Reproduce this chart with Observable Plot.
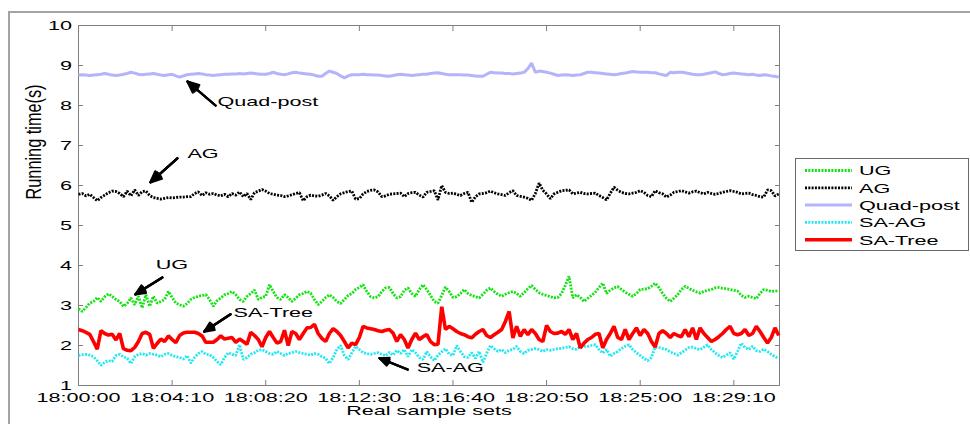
<!DOCTYPE html>
<html>
<head>
<meta charset="utf-8">
<script src="https://cdn.jsdelivr.net/npm/d3@7"></script>
<script src="https://cdn.jsdelivr.net/npm/@observablehq/plot@0.6"></script>
<style>
  html, body { margin: 0; padding: 0; background: #fff; overflow: hidden; }
  #figure { position: relative; width: 970px; height: 424px; overflow: hidden; background: #fff;
            font-family: "Liberation Sans", Arial, sans-serif; }
  #outline { position: absolute; left: 8px; top: 11px; width: 1000px; height: 500px;
             border-left: 2px solid #a3a3a3; border-top: 2px solid #a3a3a3; }
  #chart { position: absolute; left: 0; top: 0; }
  #legend { position: absolute; left: 795px; top: 158px; }
</style>
</head>
<body>
<div id="figure">
  <div id="outline"></div>
  <div id="chart"></div>
  <div id="legend"></div>
</div>
<script>
// Sampling: one measurement every 10 s starting at 18:00:00
const sampleStart = "18:00:00";
const sampleStepSeconds = 10;
const axisEnd = "18:31:12";

const xTickLabels = ["18:00:00", "18:04:10", "18:08:20", "18:12:30", "18:16:40", "18:20:50", "18:25:00", "18:29:10"];
const yTicks = [1, 2, 3, 4, 5, 6, 7, 8, 9, 10];
const yTickLabels = ["1", "2", "3", "4", "5", "6", "7", "8", "9", "10"];

const seriesNames = ["UG", "AG", "Quad-post", "SA-AG", "SA-Tree"];

// Running time (s) per sample set
const ug = [
  2.92, 2.85, 2.95, 3.06, 3.10, 3.20, 3.10, 3.22, 3.29, 3.23,
  3.15, 3.10, 2.98, 3.05, 3.19, 3.02, 3.23, 2.94, 3.27, 2.98,
  3.23, 3.06, 3.10, 3.15, 3.35, 3.20, 3.06, 3.02, 2.98, 3.05,
  3.15, 3.20, 3.23, 3.25, 3.27, 3.15, 2.98, 3.12, 3.19, 3.27,
  3.30, 3.35, 3.27, 3.15, 3.10, 3.23, 3.30, 3.39, 3.15, 3.20,
  3.23, 3.52, 3.35, 3.20, 3.15, 3.27, 3.20, 3.10, 3.18, 3.27,
  3.30, 3.35, 3.31, 3.15, 3.02, 3.10, 3.20, 3.27, 3.20, 3.10,
  3.05, 3.15, 3.25, 3.30, 3.40, 3.45, 3.52, 3.35, 3.22, 3.19,
  3.22, 3.35, 3.44, 3.45, 3.30, 3.19, 3.22, 3.38, 3.44, 3.30,
  3.23, 3.40, 3.52, 3.40, 3.25, 3.10, 3.06, 3.25, 3.46, 3.35,
  3.20, 3.22, 3.30, 3.40, 3.30, 3.25, 3.22, 3.19, 3.28, 3.38,
  3.44, 3.35, 3.28, 3.23, 3.28, 3.32, 3.35, 3.30, 3.23, 3.32,
  3.42, 3.50, 3.40, 3.32, 3.28, 3.25, 3.22, 3.19, 3.20, 3.30,
  3.50, 3.73, 3.19, 3.27, 3.20, 3.10, 3.18, 3.25, 3.33, 3.45,
  3.56, 3.30, 3.38, 3.44, 3.47, 3.40, 3.33, 3.28, 3.23, 3.30,
  3.40, 3.41, 3.42, 3.48, 3.56, 3.45, 3.30, 3.18, 3.10, 3.18,
  3.27, 3.40, 3.48, 3.43, 3.38, 3.34, 3.31, 3.35, 3.38, 3.40,
  3.44, 3.45, 3.43, 3.42, 3.40, 3.38, 3.36, 3.25, 3.20, 3.23,
  3.20, 3.17, 3.30, 3.40, 3.38, 3.35, 3.36, 3.37
];
const ag = [
  5.78, 5.80, 5.74, 5.78, 5.70, 5.62, 5.70, 5.76, 5.82, 5.86,
  5.85, 5.80, 5.72, 5.86, 5.74, 5.89, 5.75, 5.85, 5.86, 5.75,
  5.70, 5.68, 5.66, 5.68, 5.70, 5.69, 5.70, 5.71, 5.71, 5.72,
  5.72, 5.80, 5.84, 5.75, 5.82, 5.78, 5.80, 5.76, 5.74, 5.78,
  5.72, 5.80, 5.76, 5.84, 5.72, 5.80, 5.65, 5.82, 5.86, 5.90,
  5.86, 5.80, 5.78, 5.76, 5.75, 5.72, 5.74, 5.77, 5.80, 5.82,
  5.62, 5.72, 5.76, 5.74, 5.73, 5.76, 5.80, 5.74, 5.63, 5.72,
  5.79, 5.82, 5.85, 5.86, 5.66, 5.67, 5.79, 5.85, 5.88, 5.89,
  5.84, 5.72, 5.74, 5.78, 5.79, 5.80, 5.81, 5.72, 5.80, 5.82,
  5.83, 5.76, 5.71, 5.83, 5.85, 5.87, 5.64, 6.00, 5.83, 5.80,
  5.81, 5.78, 5.75, 5.80, 5.83, 5.58, 5.72, 5.79, 5.80, 5.82,
  5.86, 5.82, 5.79, 5.77, 5.75, 5.82, 5.87, 5.75, 5.73, 5.71,
  5.68, 5.63, 5.80, 6.06, 5.88, 5.79, 5.67, 5.79, 5.83, 5.87,
  5.88, 5.89, 5.79, 5.81, 5.83, 5.80, 5.79, 5.80, 5.81, 5.75,
  5.70, 5.64, 5.80, 5.96, 5.88, 5.83, 5.80, 5.79, 5.81, 5.83,
  5.87, 5.83, 5.75, 5.72, 5.87, 5.82, 5.79, 5.71, 5.76, 5.83,
  5.85, 5.87, 5.84, 5.81, 5.84, 5.86, 5.82, 5.79, 5.83, 5.80,
  5.78, 5.80, 5.83, 5.85, 5.87, 5.85, 5.83, 5.79, 5.80, 5.81,
  5.77, 5.75, 5.72, 5.71, 5.89, 5.87, 5.74, 5.79
];
const quadPost = [
  8.76, 8.77, 8.76, 8.75, 8.76, 8.77, 8.78, 8.80, 8.78, 8.76,
  8.75, 8.76, 8.78, 8.80, 8.83, 8.81, 8.78, 8.77, 8.78, 8.79,
  8.80, 8.78, 8.76, 8.75, 8.77, 8.78, 8.74, 8.71, 8.74, 8.77,
  8.78, 8.79, 8.80, 8.79, 8.77, 8.76, 8.75, 8.76, 8.77, 8.78,
  8.78, 8.79, 8.79, 8.80, 8.79, 8.80, 8.81, 8.80, 8.79, 8.78,
  8.78, 8.80, 8.83, 8.80, 8.78, 8.77, 8.79, 8.82, 8.83, 8.81,
  8.80, 8.79, 8.78, 8.76, 8.73, 8.73, 8.80, 8.86, 8.83, 8.80,
  8.74, 8.69, 8.74, 8.77, 8.77, 8.77, 8.78, 8.77, 8.77, 8.76,
  8.76, 8.75, 8.74, 8.73, 8.75, 8.77, 8.78, 8.77, 8.76, 8.75,
  8.76, 8.77, 8.78, 8.78, 8.80, 8.81, 8.82, 8.80, 8.78, 8.77,
  8.77, 8.77, 8.77, 8.76, 8.76, 8.75, 8.74, 8.73, 8.73, 8.78,
  8.83, 8.82, 8.81, 8.81, 8.80, 8.80, 8.79, 8.80, 8.81, 8.83,
  8.92, 9.06, 8.83, 8.86, 8.85, 8.83, 8.81, 8.78, 8.75, 8.76,
  8.77, 8.76, 8.75, 8.76, 8.77, 8.80, 8.83, 8.83, 8.82, 8.81,
  8.80, 8.79, 8.78, 8.77, 8.78, 8.80, 8.81, 8.83, 8.85, 8.84,
  8.83, 8.83, 8.83, 8.82, 8.82, 8.79, 8.77, 8.75, 8.83, 8.82,
  8.83, 8.83, 8.82, 8.80, 8.78, 8.77, 8.77, 8.78, 8.80, 8.82,
  8.84, 8.80, 8.77, 8.78, 8.80, 8.81, 8.80, 8.79, 8.78, 8.77,
  8.78, 8.76, 8.75, 8.77, 8.76, 8.74, 8.73, 8.71
];
const saAg = [
  1.75, 1.77, 1.78, 1.76, 1.72, 1.62, 1.50, 1.58, 1.62, 1.60,
  1.75, 1.78, 1.72, 1.68, 1.55, 1.72, 1.78, 1.80, 1.76, 1.80,
  1.78, 1.76, 1.72, 1.78, 1.80, 1.75, 1.72, 1.70, 1.66, 1.75,
  1.56, 1.70, 1.80, 1.85, 1.78, 1.77, 1.70, 1.60, 1.52, 1.70,
  1.82, 1.78, 1.75, 2.02, 1.65, 1.70, 1.78, 1.82, 1.88, 1.90,
  1.85, 1.80, 1.78, 1.85, 1.80, 1.75, 1.80, 1.82, 1.85, 1.82,
  1.80, 1.78, 1.76, 1.80, 1.78, 1.72, 1.68, 1.55, 1.70, 1.90,
  2.00, 1.75, 1.65, 1.82, 1.98, 1.90, 1.82, 1.80, 1.78, 1.80,
  1.82, 1.78, 1.74, 1.83, 1.76, 1.88, 1.80, 1.90, 1.72, 1.90,
  1.82, 1.70, 1.65, 1.85, 1.72, 1.62, 1.76, 1.84, 1.92, 1.78,
  1.75, 2.00, 1.85, 1.72, 1.70, 1.82, 1.68, 1.85, 1.58, 1.80,
  2.00, 1.92, 1.85, 1.90, 1.82, 1.88, 1.90, 1.98, 1.85, 1.80,
  1.88, 1.90, 1.92, 1.90, 1.85, 1.90, 1.88, 1.90, 1.92, 1.93,
  1.95, 1.97, 1.92, 1.90, 1.97, 1.98, 1.98, 2.00, 2.02, 1.90,
  1.81, 1.90, 1.73, 1.80, 1.85, 1.92, 1.98, 2.02, 1.90, 1.82,
  1.75, 1.68, 1.62, 1.70, 1.96, 1.95, 1.92, 1.90, 1.84, 1.80,
  1.76, 1.82, 1.88, 1.95, 1.96, 1.92, 1.90, 1.96, 2.02, 1.90,
  1.82, 1.75, 1.70, 1.76, 1.82, 1.66, 1.85, 2.06, 1.95, 1.90,
  1.98, 1.87, 1.85, 1.91, 1.85, 1.78, 1.72, 1.68
];
const saTree = [
  2.40, 2.37, 2.33, 2.28, 2.10, 1.91, 2.37, 2.30, 2.26, 2.28,
  2.14, 2.30, 1.92, 1.88, 1.87, 1.95, 2.10, 2.30, 2.33, 2.28,
  1.93, 2.05, 2.16, 2.10, 2.24, 2.15, 2.07, 2.25, 2.31, 2.33,
  2.33, 2.33, 2.30, 2.24, 2.08, 2.08, 2.08, 2.15, 2.24, 2.16,
  2.18, 2.20, 2.08, 2.16, 2.10, 2.03, 2.33, 2.25, 2.15, 1.97,
  2.20, 2.35, 2.20, 2.06, 2.10, 2.38, 2.00, 2.35, 2.30, 2.15,
  2.30, 2.44, 2.45, 2.53, 2.30, 2.18, 2.10, 2.30, 2.42, 2.35,
  2.25, 2.10, 1.94, 2.06, 2.02, 2.20, 2.48, 2.44, 2.42, 2.40,
  2.37, 2.35, 2.38, 2.40, 2.31, 2.10, 2.27, 2.15, 1.94, 2.15,
  2.31, 2.15, 2.22, 2.27, 2.10, 2.02, 2.03, 2.97, 2.40, 2.48,
  2.42, 2.35, 2.30, 2.27, 2.22, 2.19, 2.28, 2.35, 2.40, 2.25,
  2.20, 2.27, 2.33, 2.40, 2.60, 2.85, 2.19, 2.48, 2.23, 2.40,
  2.27, 2.40, 2.30, 2.15, 2.10, 2.50, 2.35, 2.30, 2.31, 2.35,
  2.28, 2.40, 2.15, 2.30, 1.94, 2.06, 2.15, 2.20, 2.28, 2.30,
  1.94, 2.15, 2.30, 2.48, 2.20, 2.15, 2.40, 2.15, 2.30, 2.44,
  2.25, 2.40, 2.30, 2.10, 1.96, 2.30, 2.37, 2.30, 2.20, 2.30,
  2.25, 2.22, 2.40, 2.22, 2.44, 2.15, 2.44, 2.30, 2.20, 2.10,
  2.15, 2.22, 2.30, 2.40, 2.48, 2.30, 2.27, 2.30, 2.40, 2.25,
  2.30, 2.48, 2.35, 2.20, 2.06, 2.20, 2.44, 2.25
];

// Callout labels with arrows pointing at their curves (time, running time)
const calloutLabels = ["Quad-post", "AG", "UG", "SA-Tree", "SA-AG"];
const calloutTextTime = ["18:06:11", "18:04:51", "18:03:26", "18:06:54", "18:15:03"];
const calloutTextValue = [8.10, 6.80, 4.03, 2.83, 1.45];
const calloutTailTime = ["18:06:06", "18:04:24", "18:03:44", "18:06:46", "18:14:39"];
const calloutTailValue = [8.00, 6.68, 3.70, 2.78, 1.40];
const calloutTipTime = ["18:04:51", "18:03:12", "18:02:32", "18:05:36", "18:13:24"];
const calloutTipValue = [8.60, 6.08, 3.28, 2.35, 1.68];

// Line styles, in series order
const seriesValues = [ug, ag, quadPost, saAg, saTree];
const seriesColors = ["#12e412", "#000000", "#b4b4fa", "#22e8f2", "#ff0000"];
const seriesDash = ["2,1.3", "2,1.3", null, "2,1.3", null];
const seriesWidth = [2.8, 2.8, 3, 2.8, 3.6];

const fontFamily = '"Liberation Sans", Arial, sans-serif';
const axisGrey = "#7f7f7f";

const parseTime = d3.utcParse("%H:%M:%S");
const t0 = parseTime(sampleStart);
const times = ug.map((_, i) => new Date(+t0 + i * sampleStepSeconds * 1000));
const xTickDates = xTickLabels.map(parseTime);
const xLabelOf = (d) => xTickLabels[xTickDates.findIndex((t) => +t === +d)];
const yLabelOf = (d) => yTickLabels[yTicks.indexOf(d)];

// Arrow with a solid-looking head: several heads of decreasing spread stacked
const calloutArrow = (headAngle) => Plot.arrow(calloutLabels, {
  x1: (d, i) => parseTime(calloutTailTime[i]),
  y1: (d, i) => calloutTailValue[i],
  x2: (d, i) => parseTime(calloutTipTime[i]),
  y2: (d, i) => calloutTipValue[i],
  stroke: "#000",
  strokeWidth: 2.3,
  headLength: 11,
  headAngle
});

const chart = Plot.plot({
  width: 970,
  height: 424,
  marginTop: 25,
  marginRight: 191,
  marginBottom: 39,
  marginLeft: 78,
  style: {fontFamily, fontSize: "13.5px", color: "#000", background: "transparent", overflow: "visible"},
  x: {type: "utc", domain: [t0, parseTime(axisEnd)]},
  y: {domain: [1, 10]},
  marks: [
    Plot.frame({stroke: axisGrey}),
    Plot.axisX({anchor: "bottom", ticks: xTickDates, tickFormat: xLabelOf, tickSize: -5, tickPadding: 12,
                stroke: axisGrey, fill: "#000", label: null, fontSize: 13.5}),
    Plot.axisX({anchor: "top", ticks: xTickDates, tickSize: -5, stroke: axisGrey, fill: "none", label: null}),
    Plot.axisY({anchor: "left", ticks: yTicks, tickFormat: yLabelOf, tickSize: -5, tickPadding: 11.5,
                stroke: axisGrey, fill: "#000", label: null, fontSize: 13.5}),
    Plot.axisY({anchor: "right", ticks: yTicks, tickSize: -5, stroke: axisGrey, fill: "none", label: null}),
    ...seriesValues.map((vals, s) => Plot.line(vals, {
      x: (d, i) => times[i],
      y: (d) => d,
      stroke: seriesColors[s],
      strokeWidth: seriesWidth[s],
      strokeDasharray: seriesDash[s] ?? undefined,
      strokeLinecap: "butt",
      strokeLinejoin: "miter"
    })),
    calloutArrow(48),
    calloutArrow(30),
    calloutArrow(14),
    Plot.text(calloutLabels, {
      x: (d, i) => parseTime(calloutTextTime[i]),
      y: (d, i) => calloutTextValue[i],
      text: (d) => d,
      textAnchor: "start",
      fontSize: 13.5,
      fill: "#000"
    }),
    Plot.text(["Real sample sets"], {frameAnchor: "bottom", dy: 29.5, fontSize: 13.5, fill: "#000"}),
    Plot.text(["Running time(s)"], {frameAnchor: "left", rotate: -90, dx: -45, dy: -6, fontSize: 16.3, fill: "#000"})
  ]
});

document.getElementById("chart").append(chart);

// Legend box with a line sample and label per series
const legendRowGap = 17.3;
const legend = d3.select("#legend").append("svg")
  .attr("width", 175).attr("height", 94)
  .style("font-family", fontFamily).style("font-size", "13.5px");
legend.append("rect")
  .attr("x", 0.5).attr("y", 0.5).attr("width", 173).attr("height", 92)
  .attr("fill", "#fff").attr("stroke", "#6a6a6a");
seriesNames.forEach((name, s) => {
  const y = 12.5 + s * legendRowGap;
  legend.append("line")
    .attr("x1", 10).attr("x2", 57).attr("y1", y).attr("y2", y)
    .attr("stroke", seriesColors[s])
    .attr("stroke-width", seriesWidth[s])
    .attr("stroke-dasharray", seriesDash[s])
    .attr("stroke-linecap", "butt");
  legend.append("text")
    .attr("transform", `translate(64,${y})`)
    .attr("dy", "0.36em")
    .attr("fill", "#000")
    .text(name);
});

// Widen every label horizontally (the figure is drawn with a wide aspect);
// the scale is appended after each label's own translate/rotate
function widenText(root) {
  root.querySelectorAll("text").forEach((t) => {
    const tr = t.getAttribute("transform") || "";
    const widen = tr.includes("rotate(-90)") ? "scale(1,1.35)" : "scale(1.6,1)";
    t.setAttribute("transform", (tr + " " + widen).trim());
  });
}
widenText(document.getElementById("figure"));
</script>
</body>
</html>
